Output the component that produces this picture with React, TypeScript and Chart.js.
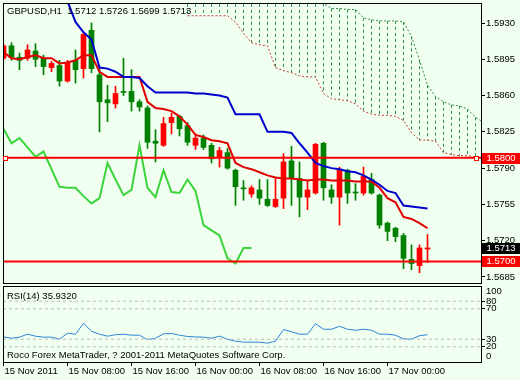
import React, { useEffect, useRef } from 'react';
import { Chart, registerables } from 'chart.js';

Chart.register(...registerables);

// ---------- data ----------
const SYMBOL = 'GBPUSD';
const PERIOD = 'H1';

const OPEN = [
  1.5896, 1.5908, 1.5897, 1.5896, 1.5903, 1.5896, 1.5887, 1.5889, 1.5874, 1.5894,
  1.5886, 1.5923, 1.5880, 1.5856, 1.5852, 1.5864, 1.5864, 1.5854, 1.5848, 1.5816,
  1.5812, 1.5834, 1.5840, 1.5831, 1.5812, 1.5819, 1.5812, 1.5801, 1.5805, 1.5788,
  1.5771, 1.5765, 1.5769, 1.5760, 1.5753, 1.5761, 1.5797, 1.5780, 1.5762, 1.5766,
  1.5814, 1.5769, 1.5762, 1.5788, 1.5767, 1.5766, 1.5779, 1.5764, 1.5737, 1.5732,
  1.5725, 1.5702, 1.5696, 1.5712,
];
const HIGH = [
  1.5910, 1.5911, 1.5901, 1.5909, 1.5910, 1.5899, 1.5893, 1.5894, 1.5894, 1.5904,
  1.5921, 1.5930, 1.5886, 1.5870, 1.5869, 1.5896, 1.5885, 1.5856, 1.5850, 1.5827,
  1.5839, 1.5843, 1.5841, 1.5834, 1.5823, 1.5822, 1.5814, 1.5810, 1.5809, 1.5789,
  1.5778, 1.5773, 1.5779, 1.5779, 1.5780, 1.5804, 1.5811, 1.5796, 1.5778, 1.5814,
  1.5815, 1.5774, 1.5791, 1.5789, 1.5775, 1.5791, 1.5785, 1.5765, 1.5738, 1.5733,
  1.5727, 1.5716, 1.5716, 1.5726,
];
const LOW = [
  1.5894, 1.5894, 1.5885, 1.5894, 1.5888, 1.5880, 1.5883, 1.5869, 1.5873, 1.5872,
  1.5877, 1.5882, 1.5825, 1.5835, 1.5848, 1.5860, 1.5845, 1.5845, 1.5809, 1.5796,
  1.5811, 1.5823, 1.5821, 1.5812, 1.5808, 1.5808, 1.5795, 1.5791, 1.5789, 1.5754,
  1.5759, 1.5762, 1.5755, 1.5753, 1.5752, 1.5751, 1.5754, 1.5743, 1.5750, 1.5765,
  1.5759, 1.5756, 1.5735, 1.5756, 1.5759, 1.5764, 1.5765, 1.5732, 1.5720, 1.5719,
  1.5693, 1.5692, 1.5689, 1.5699,
];
const CLOSE = [
  1.5908, 1.5897, 1.5894, 1.5904, 1.5895, 1.5888, 1.5891, 1.5874, 1.5892, 1.5885,
  1.5919, 1.5886, 1.5854, 1.5853, 1.5862, 1.5863, 1.5854, 1.5849, 1.5815, 1.5814,
  1.5833, 1.5839, 1.5828, 1.5815, 1.5819, 1.5810, 1.5799, 1.5807, 1.5790, 1.5772,
  1.5770, 1.5771, 1.5761, 1.5754, 1.5760, 1.5796, 1.5780, 1.5762, 1.5769, 1.5813,
  1.5771, 1.5762, 1.5789, 1.5766, 1.5766, 1.5782, 1.5766, 1.5735, 1.5729, 1.5724,
  1.5703, 1.5698, 1.5713, 1.5713,
];

const TENKAN = [
  1.5902, 1.5896, 1.5895, 1.5897, 1.5899, 1.5896, 1.5896, 1.5891, 1.5892, 1.5894,
  1.5899, 1.5899, 1.5883, 1.5878, 1.5878, 1.5878, 1.5878, 1.5878, 1.5854, 1.5848,
  1.5847, 1.5845, 1.5840, 1.5832, 1.5822, 1.5820, 1.5817, 1.5816, 1.5814, 1.5795,
  1.5791, 1.5789, 1.5786, 1.5783, 1.5781, 1.5780, 1.5780, 1.5779, 1.5778, 1.5779,
  1.5779, 1.5778, 1.5778, 1.5778, 1.5777, 1.5777, 1.5777, 1.5771, 1.5761, 1.5757,
  1.5743, 1.5741, 1.5737, 1.5732,
];
const KIJUN = [
  null, null, null, null, null, null, null, null, 1.5951, 1.5931,
  1.5921, 1.5914, 1.5887, 1.5886, 1.5883, 1.5878, 1.5878, 1.5877, 1.5869, 1.5863,
  1.5863, 1.5863, 1.5863, 1.5863, 1.5862, 1.5862, 1.5861, 1.5860, 1.5858, 1.5842,
  1.5842, 1.5842, 1.5842, 1.5825, 1.5825, 1.5825, 1.5824, 1.5814, 1.5805, 1.5795,
  1.5792, 1.5790, 1.5789, 1.5787, 1.5786, 1.5783, 1.5779, 1.5774, 1.5768, 1.5766,
  1.5754, 1.5753, 1.5752, 1.5751,
];
const CHIKOU = [
  1.5828, 1.5814, 1.5819, 1.5810, 1.5801, 1.5806, 1.5789, 1.5772, 1.5771, 1.5771,
  1.5763, 1.5756, 1.5761, 1.5795, 1.5779, 1.5764, 1.5769, 1.5812, 1.5771, 1.5762,
  1.5788, 1.5767, 1.5766, 1.5779, 1.5768, 1.5735, 1.5730, 1.5725, 1.5703, 1.5698,
  1.5713, 1.5713,
];
const SPAN_A = [
  null, null, null, null, null, null, null, null, null, null,
  null, null, null, null, null, null, null, null, null, null,
  null, null, null, 1.5937, 1.5937, 1.5937, 1.5937, 1.5937, 1.5937, 1.5931,
  1.5920, 1.5911, 1.5909, 1.5908, 1.5887, 1.5884, 1.5882, 1.5879, 1.5878, 1.5878,
  1.5862, 1.5857, 1.5856, 1.5855, 1.5852, 1.5845, 1.5842, 1.5841, 1.5841, 1.5840,
  1.5836, 1.5824, 1.5817, 1.5817, 1.5816, 1.5805, 1.5803, 1.5802, 1.5802, 1.5801,
  1.5798,
];
const SPAN_B = [
  null, null, null, null, null, null, null, null, null, null,
  null, null, null, null, null, null, null, null, null, null,
  null, null, null, 1.5960, 1.5960, 1.5960, 1.5960, 1.5960, 1.5960, 1.5960,
  1.5960, 1.5960, 1.5960, 1.5960, 1.5960, 1.5960, 1.5960, 1.5960, 1.5960, 1.5960,
  1.5949, 1.5944, 1.5944, 1.5943, 1.5943, 1.5935, 1.5933, 1.5932, 1.5932, 1.5932,
  1.5931, 1.5917, 1.5894, 1.5870, 1.5859, 1.5854, 1.5851, 1.5850, 1.5847, 1.5839,
  1.5834,
];

const LEVELS = [1.5800, 1.5700];
const SELECTED_LEVEL = 1.5800;
const PRICE_TICKS = [1.5685, 1.5720, 1.5755, 1.5790, 1.5825, 1.5860, 1.5895, 1.5930];

const RSI = [
  33.0, 31.3, 32.7, 36.6, 34.0, 32.7, 32.7, 30.0, 37.9, 36.6,
  50.9, 40.5, 36.6, 34.0, 35.9, 36.6, 35.3, 35.3, 29.4, 31.3,
  37.0, 37.5, 35.3, 33.6, 33.0, 32.7, 31.3, 34.0, 30.0, 27.4,
  26.1, 26.1, 26.1, 24.8, 27.4, 42.7, 39.8, 36.6, 36.6, 50.5,
  43.1, 43.1, 47.0, 43.1, 41.8, 43.1, 41.8, 36.6, 36.6, 35.3,
  30.4, 30.0, 34.6, 35.9,
];
const RSI_LEVELS = [80, 70, 30, 20];
const RSI_TICKS = [0, 20, 30, 70, 80, 100];
const RSI_LABEL = 'RSI(14) 35.9320';

const TIME_TICK_BARS = [0, 8, 16, 24, 32, 40, 48];
const TIME_LABELS = [
  '15 Nov 2011', '15 Nov 08:00', '15 Nov 16:00', '16 Nov 00:00',
  '16 Nov 08:00', '16 Nov 16:00', '17 Nov 00:00',
];
const COPYRIGHT = 'Roco Forex MetaTrader, ? 2001-2011 MetaQuotes Software Corp.';

// ---------- style ----------
const FONT_FAMILY = '"Liberation Sans", Arial, sans-serif';
const FONT_SIZE = 9.5;
const BG = '#F0FFF0';
const BULL = '#FF0000';
const BEAR = '#008000';
const HATCH = '#2F8F46';

const XMIN = -0.0625;
const XMAX = 59.6875;
const YMIN = 1.56792;
const YMAX = 1.59493;

const pts = (arr: (number | null)[]) =>
  arr.map((v, i) => ({ x: i, y: v })).filter((p) => p.y !== null);

const tickFont = { family: FONT_FAMILY, size: FONT_SIZE };

const framePlugin = {
  id: 'frame',
  afterDraw(chart: any) {
    const { ctx, chartArea: a } = chart;
    ctx.save();
    ctx.strokeStyle = '#000';
    ctx.lineWidth = 1;
    ctx.setLineDash([]);
    ctx.strokeRect(a.left + 0.5, a.top + 0.5, a.right - a.left, a.bottom - a.top);
    ctx.restore();
  },
};

const cloudPlugin = {
  id: 'cloud',
  beforeDatasetsDraw(chart: any) {
    const { ctx, chartArea: a, scales } = chart;
    const x = scales.x;
    const y = scales.y;
    ctx.save();
    ctx.beginPath();
    ctx.rect(a.left, a.top, a.right - a.left, a.bottom - a.top);
    ctx.clip();
    ctx.strokeStyle = HATCH;
    ctx.lineWidth = 1;
    ctx.setLineDash([3, 3]);
    SPAN_A.forEach((va, i) => {
      const vb = SPAN_B[i];
      if (va === null || vb === null) return;
      const px = x.getPixelForValue(i);
      ctx.beginPath();
      ctx.moveTo(px, y.getPixelForValue(vb));
      ctx.lineTo(px, y.getPixelForValue(va));
      ctx.stroke();
    });
    ctx.restore();
  },
};

const priceBoxPlugin = {
  id: 'priceBoxes',
  afterDraw(chart: any) {
    const { ctx, chartArea: a, scales } = chart;
    const y = scales.y;
    const last = CLOSE.length - 1;
    const markers = [
      { value: LEVELS[0], bg: '#FF0000' },
      { value: CLOSE[last], bg: '#000000' },
      { value: LEVELS[1], bg: '#FF0000' },
    ];
    ctx.save();
    ctx.font = `${FONT_SIZE}px ${FONT_FAMILY}`;
    ctx.textBaseline = 'middle';
    ctx.textAlign = 'left';
    markers.forEach((m) => {
      const py = Math.round(y.getPixelForValue(m.value));
      ctx.fillStyle = m.bg;
      ctx.fillRect(a.right + 1, py - 5, chart.width - a.right - 1, 11);
      ctx.fillStyle = '#FFFFFF';
      ctx.fillText(m.value.toFixed(4), a.right + 5.5, py + 0.5);
    });
    const sy = Math.round(y.getPixelForValue(SELECTED_LEVEL));
    ctx.strokeStyle = '#FF0000';
    ctx.fillStyle = BG;
    ctx.lineWidth = 1;
    [a.left + 0.5, a.right - 7 + 0.5].forEach((sx) => {
      ctx.fillRect(sx, sy - 2 + 0.5, 4, 4);
      ctx.strokeRect(sx, sy - 2 + 0.5, 4, 4);
    });
    ctx.restore();
  },
};

function mainConfig(): any {
  const candleColor = (ctx: any) =>
    CLOSE[ctx.dataIndex] >= OPEN[ctx.dataIndex] ? BULL : BEAR;
  return {
    type: 'line',
    data: {
      datasets: [
        ...LEVELS.map((v) => ({
          type: 'line',
          data: [{ x: XMIN, y: v }, { x: XMAX, y: v }],
          borderColor: '#FF0000',
          borderWidth: 2,
          pointRadius: 0,
          clip: 0,
          order: 0,
        })),
        {
          type: 'line',
          data: pts(KIJUN),
          borderColor: '#0000CD',
          borderWidth: 2,
          pointRadius: 0,
          clip: 0,
          order: 1,
        },
        {
          type: 'line',
          data: pts(TENKAN),
          borderColor: '#E00000',
          borderWidth: 2,
          pointRadius: 0,
          clip: 0,
          order: 2,
        },
        {
          type: 'line',
          data: pts(CHIKOU),
          borderColor: '#3BD43B',
          borderWidth: 2,
          pointRadius: 0,
          clip: 0,
          order: 3,
        },
        {
          type: 'bar',
          data: OPEN.map((o, i) => ({ x: i, y: [Math.min(o, CLOSE[i]), Math.max(o, CLOSE[i])] })),
          backgroundColor: candleColor,
          borderWidth: 0,
          barThickness: 5,
          minBarLength: 1,
          grouped: false,
          clip: 0,
          order: 4,
        },
        {
          type: 'bar',
          data: LOW.map((l, i) => ({ x: i, y: [l, HIGH[i]] })),
          backgroundColor: candleColor,
          borderWidth: 0,
          barThickness: 1,
          grouped: false,
          clip: 0,
          order: 5,
        },
        {
          type: 'line',
          data: pts(SPAN_A),
          borderColor: '#C83C3C',
          borderWidth: 1,
          borderDash: [2, 2],
          pointRadius: 0,
          clip: 0,
          order: 6,
        },
        {
          type: 'line',
          data: pts(SPAN_B),
          borderColor: HATCH,
          borderWidth: 1,
          borderDash: [2, 2],
          pointRadius: 0,
          clip: 0,
          order: 6,
        },
      ],
    },
    options: {
      responsive: false,
      maintainAspectRatio: false,
      animation: false,
      devicePixelRatio: 1,
      layout: { padding: { left: 3, top: 3, right: 0, bottom: 2 } },
      plugins: { legend: { display: false }, tooltip: { enabled: false }, title: { display: false } },
      scales: {
        x: { type: 'linear', min: XMIN, max: XMAX, offset: false, display: false },
        y: {
          type: 'linear',
          position: 'right',
          min: YMIN,
          max: YMAX,
          beginAtZero: false,
          afterFit: (s: any) => {
            s.width = 39;
            s.paddingTop = 0;
            s.paddingBottom = 0;
          },
          afterBuildTicks: (s: any) => {
            s.ticks = PRICE_TICKS.map((v) => ({ value: v }));
          },
          ticks: {
            callback: (v: any) => Number(v).toFixed(4),
            color: '#000',
            font: tickFont,
            padding: 1,
            autoSkip: false,
          },
          grid: { drawOnChartArea: false, drawTicks: true, tickLength: 4, tickColor: '#000' },
          border: { display: false },
        },
      },
    },
    plugins: [cloudPlugin, framePlugin, priceBoxPlugin],
  };
}

function rsiConfig(): any {
  return {
    type: 'line',
    data: {
      datasets: [
        ...RSI_LEVELS.map((v) => ({
          data: [{ x: XMIN, y: v }, { x: XMAX, y: v }],
          borderColor: '#BDBDBD',
          borderWidth: 1,
          borderDash: [3, 3],
          pointRadius: 0,
          clip: 0,
        })),
        {
          data: pts(RSI),
          borderColor: '#2C84D8',
          borderWidth: 1,
          pointRadius: 0,
          clip: 0,
        },
      ],
    },
    options: {
      responsive: false,
      maintainAspectRatio: false,
      animation: false,
      devicePixelRatio: 1,
      layout: { padding: { left: 3, top: 1, right: 0, bottom: 0 } },
      plugins: { legend: { display: false }, tooltip: { enabled: false } },
      scales: {
        x: {
          type: 'linear',
          min: XMIN,
          max: XMAX,
          offset: false,
          position: 'bottom',
          afterFit: (s: any) => {
            s.height = 18;
            s.paddingLeft = 0;
            s.paddingRight = 0;
          },
          afterBuildTicks: (s: any) => {
            s.ticks = TIME_TICK_BARS.map((v) => ({ value: v }));
          },
          ticks: {
            autoSkip: false,
            maxRotation: 0,
            minRotation: 0,
            align: 'start',
            labelOffset: 1,
            padding: 0,
            color: '#000',
            font: tickFont,
            callback: (v: any) => TIME_LABELS[TIME_TICK_BARS.indexOf(Number(v))],
          },
          grid: { drawOnChartArea: false, drawTicks: true, tickLength: 4, tickColor: '#000' },
          border: { display: false },
        },
        y: {
          type: 'linear',
          position: 'right',
          min: 0,
          max: 100,
          afterFit: (s: any) => {
            s.width = 39;
            s.paddingTop = 0;
            s.paddingBottom = 0;
          },
          afterBuildTicks: (s: any) => {
            s.ticks = RSI_TICKS.map((v) => ({ value: v }));
          },
          ticks: {
            autoSkip: false,
            padding: 1,
            color: '#000',
            font: tickFont,
            callback: (v: any) => {
              const n = Number(v);
              if (n === RSI_TICKS[RSI_TICKS.length - 1]) return ['', String(n)];
              if (n === RSI_TICKS[0]) return [String(n), ''];
              return String(n);
            },
          },
          grid: {
            drawOnChartArea: false,
            drawTicks: true,
            tickLength: 4,
            tickColor: (ctx: any) => {
              const t = ctx.tick ? ctx.tick.value : null;
              return t === 0 || t === 100 ? 'rgba(0,0,0,0)' : '#000';
            },
          },
          border: { display: false },
        },
      },
    },
    plugins: [framePlugin],
  };
}

export default function App() {
  const mainRef = useRef<HTMLCanvasElement>(null);
  const rsiRef = useRef<HTMLCanvasElement>(null);

  useEffect(() => {
    const main = new Chart(mainRef.current as HTMLCanvasElement, mainConfig());
    const rsi = new Chart(rsiRef.current as HTMLCanvasElement, rsiConfig());
    return () => {
      main.destroy();
      rsi.destroy();
    };
  }, []);

  const n = CLOSE.length - 1;
  const header = `${SYMBOL},${PERIOD}  ${OPEN[n].toFixed(4)} ${HIGH[n].toFixed(4)} ${LOW[n].toFixed(4)} ${CLOSE[n].toFixed(4)}`;
  const textStyle: any = {
    position: 'absolute',
    left: 7,
    lineHeight: '11px',
    whiteSpace: 'pre',
    fontFamily: FONT_FAMILY,
    fontSize: FONT_SIZE,
    color: '#000',
  };

  return (
    <div
      style={{
        position: 'absolute',
        left: 0,
        top: 0,
        width: 520,
        height: 380,
        background: BG,
        overflow: 'hidden',
      }}
    >
      <canvas
        ref={mainRef}
        width={520}
        height={285}
        style={{ position: 'absolute', left: 0, top: 0, width: 520, height: 285 }}
      />
      <canvas
        ref={rsiRef}
        width={520}
        height={95}
        style={{ position: 'absolute', left: 0, top: 285, width: 520, height: 95 }}
      />
      <div style={{ ...textStyle, top: 5 }}>{header}</div>
      <div style={{ ...textStyle, top: 289.5 }}>{RSI_LABEL}</div>
      <div style={{ ...textStyle, top: 348.5 }}>{COPYRIGHT}</div>
    </div>
  );
}
